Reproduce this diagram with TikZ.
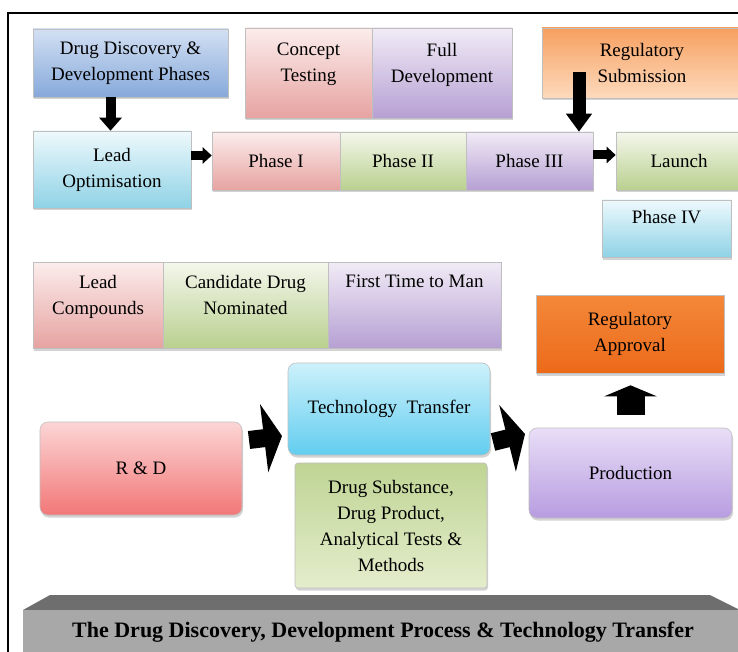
\documentclass[tikz,border=0pt]{standalone}
\usepackage{fontspec}
\setmainfont{Liberation Serif}
\usetikzlibrary{arrows.meta,shadows,positioning}

\definecolor{pinkT}{HTML}{FBEDEC}
\definecolor{pinkB}{HTML}{E6A3A1}
\definecolor{greenT}{HTML}{F4F7EC}
\definecolor{greenB}{HTML}{B9D08F}
\definecolor{purpT}{HTML}{F1EBF6}
\definecolor{purpB}{HTML}{B6A0D3}
\definecolor{blueT}{HTML}{D3E0F3}
\definecolor{blueB}{HTML}{86A9DA}
\definecolor{cyanT}{HTML}{EEF9FC}
\definecolor{cyanB}{HTML}{8FD2E6}
\definecolor{orngT}{HTML}{F7A060}
\definecolor{orngB}{HTML}{FDDABD}
\definecolor{apprT}{HTML}{F4883A}
\definecolor{apprB}{HTML}{EC6A1A}
\definecolor{techT}{HTML}{CDF1FB}
\definecolor{techB}{HTML}{62CDEF}
\definecolor{dsubT}{HTML}{BFD494}
\definecolor{dsubB}{HTML}{E4EDCC}
\definecolor{rdT}{HTML}{FCD5D5}
\definecolor{rdB}{HTML}{F27777}
\definecolor{prodT}{HTML}{E9DEF7}
\definecolor{prodB}{HTML}{B79CE0}
\definecolor{barTop}{HTML}{6E6E6E}
\definecolor{barFront}{HTML}{A8A8A8}

\tikzset{
  box/.style={draw=black!25, line width=0.6pt, align=center, text=black,
    font=\fontsize{19}{26}\selectfont, inner sep=0pt,
    drop shadow={opacity=0.35, shadow xshift=1pt, shadow yshift=-2.5pt}},
  rbox/.style={box, rounded corners=8pt},
  lbl/.style={anchor=north, align=center, text=black, font=\fontsize{19}{26}\selectfont, inner sep=0pt},
  fpink/.style={top color=pinkT, bottom color=pinkB},
  fgreen/.style={top color=greenT, bottom color=greenB},
  fpurp/.style={top color=purpT, bottom color=purpB},
  fblue/.style={top color=blueT, bottom color=blueB},
  fcyan/.style={top color=cyanT, bottom color=cyanB},
  arrv/.style={line width=10pt, -{Triangle[length=13pt, width=22pt]}},
  arrh/.style={line width=9pt, -{Triangle[length=9pt, width=16pt]}},
  arrup/.style={line width=28pt, -{Triangle[length=11pt, width=52pt]}},
  arrbig/.style={line width=18pt, -{Triangle[length=18pt, width=68pt]}},
}

\begin{document}
\begin{tikzpicture}[x=1pt, y=-1pt]
\useasboundingbox (0,0) rectangle (738,652);
\clip (0,0) rectangle (738,652);
\draw[line width=1.5pt] (8,660) -- (8,13) -- (745,13);

% development phases
\node[box, fblue, minimum width=195pt, minimum height=68pt] (ddp) at (130.5,63) {Drug Discovery \&\\Development Phases};
\node[box, fpink, minimum width=127pt, minimum height=90pt,
  label={[lbl, yshift=-15pt]north:{Concept\\Testing}}] (concept) at (308.5,73) {};
\node[box, fpurp, minimum width=140pt, minimum height=90pt,
  label={[lbl, yshift=-15pt]north:{Full\\Development}}] (fulldev) at (442,73) {};
\node[box, top color=orngT, bottom color=orngB, minimum width=200pt, minimum height=70pt] (regsub) at (642,63) {Regulatory\\Submission};
\node[box, fcyan, minimum width=158pt, minimum height=77pt] (leadopt) at (112,169.5) {Lead\\Optimisation};
\node[box, fpink, minimum width=128pt, minimum height=58pt] (ph1) at (276,161) {Phase I};
\node[box, fgreen, minimum width=126pt, minimum height=58pt] (ph2) at (403,161) {Phase II};
\node[box, fpurp, minimum width=127pt, minimum height=58pt] (ph3) at (529.5,161) {Phase III};
\node[box, fgreen, minimum width=126pt, minimum height=58pt] (launch) at (679,161) {Launch};
\node[box, fcyan, minimum width=129pt, minimum height=57pt,
  label={[lbl, yshift=-10pt]north:{Phase IV}}] (ph4) at (666.5,228.5) {};

\draw[arrv] ([xshift=-20pt]ddp.south) -- ([xshift=-20pt]ddp.south |- leadopt.north);
\draw[arrh] ([yshift=14pt]leadopt.east) -- ([yshift=14pt]leadopt.east -| ph1.west);
\coordinate (subarr) at (579,72);
\draw[line width=13pt, -{Triangle[length=18pt, width=25pt]}] (subarr) -- (subarr |- ph3.north);
\draw[arrh] ([yshift=6pt]ph3.east) -- ([yshift=6pt]ph3.east -| launch.west);

% milestones
\node[box, fpink, minimum width=130pt, minimum height=86pt,
  label={[lbl, yshift=-13pt]north:{Lead\\Compounds}}] (lc) at (98,305) {};
\node[box, fgreen, minimum width=165pt, minimum height=86pt,
  label={[lbl, yshift=-13pt]north:{Candidate Drug\\Nominated}}] (cdn) at (245.5,305) {};
\node[box, fpurp, minimum width=173pt, minimum height=86pt,
  label={[lbl, yshift=-13pt]north:{First Time to Man}}] (ftm) at (414.5,305) {};

% technology transfer
\node[box, top color=apprT, bottom color=apprB, minimum width=188pt, minimum height=78pt] (regapp) at (630,334) {Regulatory\\Approval};
\node[rbox, top color=techT, bottom color=techB, minimum width=202pt, minimum height=92pt] (techtr) at (389,409) {Technology~~Transfer};
\node[box, rounded corners=3pt, top color=dsubT, bottom color=dsubB, minimum width=192pt, minimum height=125pt] (dsub) at (391,525.5) {Drug Substance,\\Drug Product,\\Analytical Tests \&\\Methods};
\node[rbox, top color=rdT, bottom color=rdB, minimum width=202pt, minimum height=93pt] (rd) at (141,468.5) {R \& D};
\node[rbox, top color=prodT, bottom color=prodB, minimum width=203pt, minimum height=90pt] (prod) at (630.5,473) {Production};

\coordinate (arAs) at (249,440);
\coordinate (arAe) at (282,436);
\draw[arrbig] (arAs) -- (arAe);
\coordinate (arBs) at (493,442);
\coordinate (arBe) at (525,434);
\draw[arrbig] (arBs) -- (arBe);
\draw[arrup] ([yshift=13pt]prod.north) -- ([yshift=-12pt]regapp.south -| prod.north);

% base platform
\fill[barTop] (50,595) -- (710,595) -- (740,610) -- (23,610) -- cycle;
\fill[barFront] (23,610) rectangle (745,660);
\node[font=\fontsize{22}{26}\selectfont\bfseries, text=black] (title) at (383,632) {The Drug Discovery, Development Process \& Technology Transfer};
\end{tikzpicture}
\end{document}
